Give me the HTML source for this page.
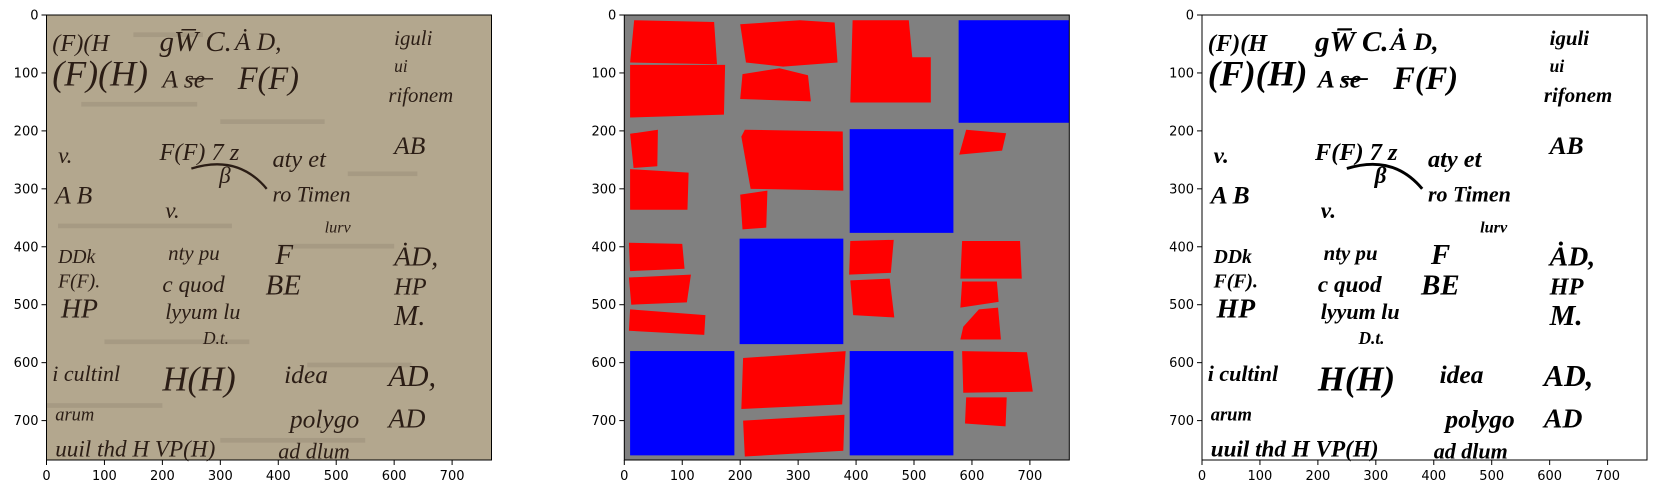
<!DOCTYPE html>
<html><head><meta charset="utf-8">
<style>
html,body{margin:0;padding:0;background:#fff;}
svg{display:block;}
.tick{font-family:"DejaVu Sans","Liberation Sans",sans-serif;font-size:13px;fill:#000;}
.hw{font-family:"Liberation Serif",serif;font-style:italic;}
</style></head>
<body>
<svg id="fig" width="1656" height="493" xmlns="http://www.w3.org/2000/svg"></svg>
<script>
// ---- data ----
const axesLefts = [46.5, 624.3, 1202];
const tickValues = [0, 100, 200, 300, 400, 500, 600, 700];
const tickLabels = ["0", "100", "200", "300", "400", "500", "600", "700"];
const imageSize = 768;
// blue squares in the mask panel [x0,y0,x1,y1]
const blueSquares = [
  [577, 9, 768, 186],
  [389, 197, 568, 376],
  [199, 386, 378, 568],
  [10, 580, 190, 760],
  [389, 580, 568, 760]
];
// red polygons in the mask panel
const redPolygons = [
  [[17,9],[155,12],[160,85],[10,82]],
  [[10,86],[174,86],[172,172],[10,177]],
  [[200,16],[303,9],[363,13],[368,82],[274,89],[210,82]],
  [[204,102],[268,92],[317,104],[322,149],[200,145]],
  [[394,9],[491,9],[497,73],[529,73],[529,151],[390,151]],
  [[10,205],[58,198],[57,261],[16,264]],
  [[10,266],[111,272],[109,336],[10,336]],
  [[208,198],[377,201],[378,303],[218,300],[202,210]],
  [[200,310],[247,303],[245,367],[204,370]],
  [[590,198],[659,204],[652,234],[578,241]],
  [[8,393],[100,395],[104,438],[10,442]],
  [[8,453],[115,448],[108,496],[12,500]],
  [[10,508],[140,518],[138,552],[8,545]],
  [[390,390],[465,388],[460,445],[388,448]],
  [[390,458],[458,455],[466,522],[395,518]],
  [[583,390],[683,390],[686,455],[580,455]],
  [[583,460],[643,460],[646,495],[580,505]],
  [[612,508],[645,505],[650,560],[580,560],[585,538]],
  [[205,592],[382,580],[376,672],[202,680]],
  [[205,700],[380,690],[378,752],[208,762]],
  [[583,580],[695,582],[705,650],[585,652]],
  [[590,660],[660,660],[658,710],[588,705]]
];
// handwriting fragments [text, x, baselineY, size] in image coordinates
const inkText = [
  ["(F)(H", 10, 62, 42], ["(F)(H)", 10, 122, 62], ["gW\u0305\u0305 C.", 195, 62, 50],
  ["A\u0307 D,", 325, 60, 44], ["A s\u0336e\u0336", 200, 125, 44], ["F(F)", 330, 128, 56],
  ["iguli", 600, 52, 36], ["ui", 600, 98, 30], ["rifonem", 590, 150, 36],
  ["v.", 20, 255, 40], ["F(F) 7 z", 195, 250, 42], ["\u03b2", 298, 290, 40],
  ["aty  et", 390, 262, 42], ["AB", 600, 240, 44], ["A B", 15, 325, 44],
  ["v.", 205, 350, 40], ["ro  Timen", 390, 322, 38], ["lurv", 480, 375, 28],
  ["DDk", 20, 428, 34], ["F(F).", 20, 470, 34], ["HP", 25, 522, 48],
  ["nty  pu", 210, 423, 36], ["F", 395, 430, 50], ["A\u0307D,", 600, 432, 48],
  ["c  quod", 200, 478, 40], ["BE", 378, 482, 50], ["HP", 600, 482, 42],
  ["lyyum  lu", 205, 525, 38], ["M.", 600, 535, 50], ["D.t.", 270, 568, 30],
  ["i  cultinl", 10, 632, 38], ["H(H)", 200, 648, 60], ["idea", 410, 635, 44], ["AD,", 590, 640, 52],
  ["arum", 15, 700, 32], ["polygo", 420, 712, 44], ["AD", 590, 712, 48],
  ["uuil  thd  H VP(H)", 15, 762, 40], ["ad dlum", 400, 765, 38]
];
// faint horizontal stains on the photo [x, y, w]
const stains = [[60,150,200],[300,180,180],[20,360,300],[400,395,200],[100,560,250],[450,600,180],[0,670,200],[300,730,250],[520,270,120],[150,30,120]];

// ---- drawing ----
const NS = "http://www.w3.org/2000/svg";
const fig = document.getElementById("fig");
const TOP = 15, SIZE = 445;
const sc = v => v * SIZE / imageSize;
function mk(tag, attrs, parent) {
  const e = document.createElementNS(NS, tag);
  for (const k in attrs) e.setAttribute(k, attrs[k]);
  parent.appendChild(e);
  return e;
}

function drawAxes(i, name) {
  const L = axesLefts[i];
  const ax = mk("g", {}, fig);
  
  
  const inner = mk("g", {transform: `translate(${L},${TOP}) scale(${SIZE/imageSize})`}, ax);
  return {ax, inner, L};
}
function finishAxes(a, prefix) {
  const {ax, L} = a;
  const frame = mk("rect", {x: L, y: TOP, width: SIZE, height: SIZE, fill: "none", stroke: "#000", "stroke-width": 1}, ax);
  
  
  const xg = mk("g", {}, ax);
  
  
  const yg = mk("g", {}, ax);
  
  
  tickValues.forEach((v, k) => {
    const x = L + sc(v), y = TOP + sc(v);
    mk("line", {x1: x, x2: x, y1: TOP + SIZE, y2: TOP + SIZE + 5, stroke: "#000", "stroke-width": 1}, xg);
    const tx = mk("text", {x: x, y: TOP + SIZE + 20, "text-anchor": "middle", class: "tick"}, xg);
    tx.textContent = tickLabels[k];
    
    
    mk("line", {x1: L - 5, x2: L, y1: y, y2: y, stroke: "#000", "stroke-width": 1}, yg);
    const ty = mk("text", {x: L - 8, y: y + 4.5, "text-anchor": "end", class: "tick"}, yg);
    ty.textContent = tickLabels[k];
    
    
  });
}
function drawInk(g, color, weight) {
  inkText.forEach(t => {
    const e = mk("text", {x: t[1], y: t[2], "font-size": t[3], fill: color, "font-weight": weight, class: "hw"}, g);
    e.textContent = t[0];
    
    
  });
}

// Panel 1: original manuscript
const a1 = drawAxes(0, "manuscript-photo-panel");
const bg1 = mk("rect", {x: 0, y: 0, width: imageSize, height: imageSize, fill: "#b3a78e"}, a1.inner);


stains.forEach(s => {
  const r = mk("rect", {x: s[0], y: s[1], width: s[2], height: 8, fill: "#9a8d78", opacity: 0.5}, a1.inner);
  
  
});
drawInk(a1.inner, "#2b1d15", "normal");
mk("path", {d: "M250 265 Q330 240 380 300", fill: "none", stroke: "#2b1d15", "stroke-width": 4}, a1.inner);
finishAxes(a1, "photo");

// Panel 2: mask
const a2 = drawAxes(1, "segmentation-mask-panel");
const bg2 = mk("rect", {x: 0, y: 0, width: imageSize, height: imageSize, fill: "#808080"}, a2.inner);


blueSquares.forEach(b => {
  const r = mk("rect", {x: b[0], y: b[1], width: b[2] - b[0], height: b[3] - b[1], fill: "#0000ff"}, a2.inner);
  
  
});
redPolygons.forEach(p => {
  const r = mk("polygon", {points: p.map(q => q.join(",")).join(" "), fill: "#ff0000"}, a2.inner);
  
  
});
finishAxes(a2, "mask");

// Panel 3: binarized
const a3 = drawAxes(2, "binarized-panel");
const bg3 = mk("rect", {x: 0, y: 0, width: imageSize, height: imageSize, fill: "#ffffff"}, a3.inner);


drawInk(a3.inner, "#000000", "bold");
mk("path", {d: "M250 265 Q330 240 380 300", fill: "none", stroke: "#000", "stroke-width": 5}, a3.inner);
finishAxes(a3, "binarized");
</script>
</body></html>
